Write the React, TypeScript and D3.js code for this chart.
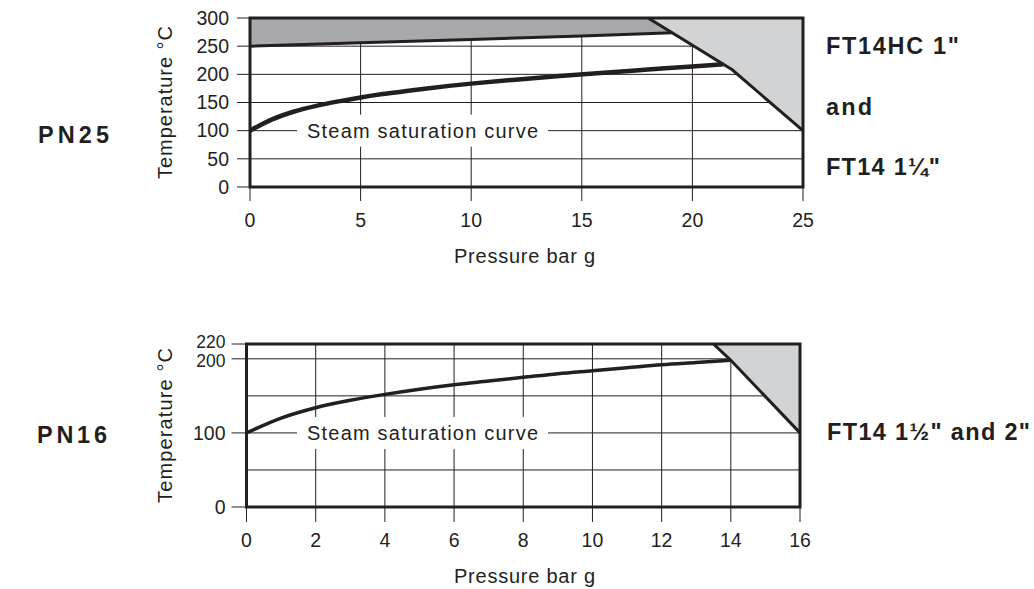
import React from "react";
import * as d3 from "d3";

// ---------- data ----------
const topXTicks = [0, 5, 10, 15, 20, 25];
const topYTicks = [0, 50, 100, 150, 200, 250, 300];
const botXTicks = [0, 2, 4, 6, 8, 10, 12, 14, 16];
const botYTickLabels = [0, 100, 200, 220];
const botYGrid = [50, 100, 150, 200];

// PN25 steam saturation curve (bar g, °C)
const satTopP = [0, 1, 2, 3, 4, 5, 6, 7, 8, 9, 10, 12, 14, 16, 18, 20, 21.4];
const satTopT = [100, 120, 134, 144, 152, 159, 165, 170, 175, 179.5, 183.5, 190.5, 197, 203, 208.5, 214, 218];
// PN25 upper limit line
const upperP = [0, 5, 10, 15, 19.1];
const upperT = [250, 256, 262, 268, 274];
// PN25 limiting diagonal
const diagTopP = [18, 21.8, 25];
const diagTopT = [300, 208, 100];

// PN16 steam saturation curve
const satBotP = [0, 1, 2, 3, 4, 5, 6, 7, 8, 9, 10, 11, 12, 13, 14];
const satBotT = [100, 120, 134, 144, 152, 159, 165, 170, 175, 180, 184, 188, 192, 195, 198];
// PN16 limiting diagonal
const diagBotP = [13.5, 14, 16];
const diagBotT = [220, 198, 100];

const INK = "#231f20";
const DARK = "#a7a9ac";
const LIGHT = "#d1d3d4";
const FONT = "Arial, 'Liberation Sans', Helvetica, sans-serif";

const zip = (a: number[], b: number[]) => a.map((v, i) => [v, b[i]] as [number, number]);

export default function App() {
  const xT = d3.scaleLinear().domain([0, 25]).range([250, 803]);
  const yT = d3.scaleLinear().domain([0, 300]).range([187, 18]);
  const xB = d3.scaleLinear().domain([0, 16]).range([246.5, 800]);
  const yB = d3.scaleLinear().domain([0, 220]).range([507, 344]);

  const lineT = d3.line<[number, number]>().x((d) => xT(d[0])).y((d) => yT(d[1]));
  const curveT = d3.line<[number, number]>().x((d) => xT(d[0])).y((d) => yT(d[1])).curve(d3.curveMonotoneX);
  const lineB = d3.line<[number, number]>().x((d) => xB(d[0])).y((d) => yB(d[1]));
  const curveB = d3.line<[number, number]>().x((d) => xB(d[0])).y((d) => yB(d[1])).curve(d3.curveMonotoneX);

  const upperPts = zip(upperP, upperT);
  const darkPoly = [[0, 300] as [number, number], [diagTopP[0], 300] as [number, number], ...upperPts.slice().reverse()];
  const lightTopPoly = [...zip(diagTopP, diagTopT), [25, 300] as [number, number]];
  const lightBotPoly = [...zip(diagBotP, diagBotT), [16, 220] as [number, number]];

  const [x0T, x1T] = xT.range();
  const [yBotT, yTopT] = yT.range();
  const [x0B, x1B] = xB.range();
  const [yBotB, yTopB] = yB.range();

  const tickFs = 19.5;
  const boldFs = 23.5;

  const steamLabel = (cy: number) => (
    <g>
      <rect x={297} y={cy - 16} width={251} height={32} fill="#fff" />
      <text x={307} y={cy} dy="0.35em" fontSize={20} fill={INK} textLength={231} lengthAdjust="spacing">
        Steam saturation curve
      </text>
    </g>
  );

  return (
    <svg
      width={1034}
      height={589}
      style={{ position: "absolute", left: 0, top: 0, background: "#fff" }}
      fontFamily={FONT}
    >
      <rect x={0} y={0} width={1034} height={589} fill="#fff" />

      {/* ================= PN25 chart ================= */}
      {topXTicks.map((t) => (
        <line key={"tv" + t} x1={xT(t)} x2={xT(t)} y1={yTopT} y2={yBotT + 14} stroke={INK} strokeWidth={1} />
      ))}
      {topYTicks.map((t) => (
        <line key={"th" + t} x1={x0T - 13} x2={x1T} y1={yT(t)} y2={yT(t)} stroke={INK} strokeWidth={1} />
      ))}
      <path d={lineT(darkPoly) + "Z"} fill={DARK} />
      <path d={lineT(lightTopPoly) + "Z"} fill={LIGHT} />

      {steamLabel(yT(100))}

      <path d={lineT(upperPts) || ""} fill="none" stroke={INK} strokeWidth={3} />
      <path d={curveT(zip(satTopP, satTopT)) || ""} fill="none" stroke={INK} strokeWidth={4.5} />
      <path d={lineT(zip(diagTopP, diagTopT)) || ""} fill="none" stroke={INK} strokeWidth={3} />

      <rect x={x0T} y={yTopT} width={x1T - x0T} height={yBotT - yTopT} fill="none" stroke={INK} strokeWidth={3} />

      {topXTicks.map((t) => (
        <text key={"tx" + t} x={xT(t)} y={yBotT + 40} textAnchor="middle" fontSize={tickFs} fill={INK}>
          {t}
        </text>
      ))}
      {topYTicks.map((t) => (
        <text key={"ty" + t} x={x0T - 21} y={yT(t)} dy="0.35em" textAnchor="end" fontSize={tickFs} fill={INK}>
          {t}
        </text>
      ))}
      <text x={454} y={263} fontSize={20} fill={INK} textLength={141} lengthAdjust="spacing">
        Pressure bar g
      </text>
      <text
        transform={`translate(172,${(yTopT + yBotT) / 2}) rotate(-90)`}
        textAnchor="middle"
        fontSize={20}
        fill={INK}
        textLength={153}
        lengthAdjust="spacing"
      >
        Temperature °C
      </text>

      <text x={38} y={143} fontSize={boldFs} fontWeight="bold" fill={INK} textLength={71} lengthAdjust="spacing">
        PN25
      </text>
      <text x={826} y={54} fontSize={boldFs} fontWeight="bold" fill={INK} textLength={133} lengthAdjust="spacing">
        FT14HC 1"
      </text>
      <text x={826} y={115} fontSize={boldFs} fontWeight="bold" fill={INK} textLength={46} lengthAdjust="spacing">
        and
      </text>
      <text x={826} y={175} fontSize={boldFs} fontWeight="bold" fill={INK} textLength={114} lengthAdjust="spacing">
        FT14 1¼"
      </text>

      {/* ================= PN16 chart ================= */}
      {botXTicks.map((t) => (
        <line key={"bv" + t} x1={xB(t)} x2={xB(t)} y1={yTopB} y2={yBotB + 15} stroke={INK} strokeWidth={1} />
      ))}
      {botYGrid.map((t) => (
        <line key={"bh" + t} x1={x0B} x2={x1B} y1={yB(t)} y2={yB(t)} stroke={INK} strokeWidth={1} />
      ))}
      {botYTickLabels.map((t) => (
        <line key={"bt" + t} x1={x0B - 15} x2={x0B} y1={yB(t)} y2={yB(t)} stroke={INK} strokeWidth={1} />
      ))}
      <path d={lineB(lightBotPoly) + "Z"} fill={LIGHT} />

      {steamLabel(yB(100))}

      <path d={curveB(zip(satBotP, satBotT)) || ""} fill="none" stroke={INK} strokeWidth={3.5} />
      <path d={lineB(zip(diagBotP, diagBotT)) || ""} fill="none" stroke={INK} strokeWidth={3} />

      <rect x={x0B} y={yTopB} width={x1B - x0B} height={yBotB - yTopB} fill="none" stroke={INK} strokeWidth={3} />

      {botXTicks.map((t) => (
        <text key={"bx" + t} x={xB(t)} y={yBotB + 40} textAnchor="middle" fontSize={tickFs} fill={INK}>
          {t}
        </text>
      ))}
      {botYTickLabels.map((t) => (
        <text
          key={"by" + t}
          x={x0B - 21}
          y={yB(t) + (t === 220 ? -2 : t === 200 ? 2 : 0)}
          dy="0.35em"
          textAnchor="end"
          fontSize={t >= 200 ? 17.5 : tickFs}
          fill={INK}
        >
          {t}
        </text>
      ))}
      <text x={454} y={583} fontSize={20} fill={INK} textLength={141} lengthAdjust="spacing">
        Pressure bar g
      </text>
      <text
        transform={`translate(172,${(yTopB + yBotB) / 2}) rotate(-90)`}
        textAnchor="middle"
        fontSize={20}
        fill={INK}
        textLength={155}
        lengthAdjust="spacing"
      >
        Temperature °C
      </text>

      <text x={37} y={443} fontSize={boldFs} fontWeight="bold" fill={INK} textLength={70} lengthAdjust="spacing">
        PN16
      </text>
      <text x={827} y={440} fontSize={boldFs} fontWeight="bold" fill={INK} textLength={203} lengthAdjust="spacing">
        FT14 1½" and 2"
      </text>
    </svg>
  );
}
